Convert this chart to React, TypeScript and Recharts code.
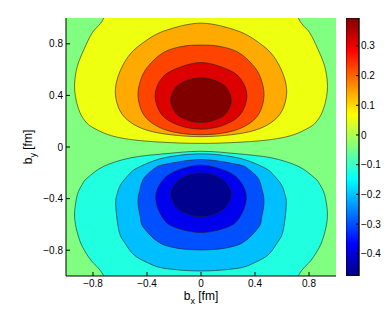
import React from "react";
import { ScatterChart, Scatter, XAxis, YAxis, CartesianGrid, BarChart, Bar } from "recharts";

// axis ticks
const xTicks = [-0.8, -0.4, 0, 0.4, 0.8];
const yTicks = [-0.8, -0.4, 0, 0.4, 0.8];
const barTicks = [-0.4, -0.3, -0.2, -0.1, 0, 0.1, 0.2, 0.3];
const barRange = [-0.475, 0.394];

// contour lines, [b_x, b_y] in fm
// positive lobe, outer -> inner
const posLevel1 = [
  [-0.6, 1.3], [-0.72, 1.0], [-0.805, 0.886], [-0.867, 0.756], [-0.916, 0.626], [-0.936, 0.497],
  [-0.93, 0.39], [-0.905, 0.289], [-0.865, 0.21], [-0.8, 0.15], [-0.644, 0.082], [-0.4, 0.045],
  [0, 0.028], [0.4, 0.045], [0.644, 0.082], [0.8, 0.15], [0.865, 0.21], [0.905, 0.289],
  [0.93, 0.39], [0.936, 0.497], [0.916, 0.626], [0.867, 0.756], [0.805, 0.886], [0.72, 1.0], [0.6, 1.3],
];
const posLevel2 = [
  [-0.635, 0.42], [-0.61, 0.56], [-0.54, 0.7], [-0.44, 0.8], [-0.274, 0.899], [0, 0.96],
  [0.274, 0.899], [0.44, 0.8], [0.54, 0.7], [0.61, 0.56], [0.635, 0.42], [0.6, 0.28],
  [0.52, 0.19], [0.4, 0.13], [0.225, 0.095], [0, 0.08], [-0.225, 0.095], [-0.4, 0.13],
  [-0.52, 0.19], [-0.6, 0.28],
];
const posLevel3 = [
  [-0.467, 0.4], [-0.44, 0.54], [-0.38, 0.64], [-0.274, 0.735], [-0.14, 0.78], [0, 0.79],
  [0.14, 0.78], [0.274, 0.735], [0.38, 0.64], [0.44, 0.54], [0.467, 0.4], [0.43, 0.26],
  [0.34, 0.17], [0.2, 0.115], [0, 0.095], [-0.2, 0.115], [-0.34, 0.17], [-0.43, 0.26],
];
const posLevel4 = [
  [-0.34, 0.39], [-0.3, 0.52], [-0.2, 0.6], [0, 0.655], [0.2, 0.6], [0.3, 0.52],
  [0.34, 0.39], [0.29, 0.25], [0.17, 0.17], [0, 0.138], [-0.17, 0.17], [-0.29, 0.25],
];
const posLevel5 = [
  [-0.225, 0.36], [-0.18, 0.47], [-0.09, 0.52], [0, 0.536], [0.09, 0.52], [0.18, 0.47],
  [0.225, 0.36], [0.18, 0.255], [0.09, 0.205], [0, 0.19], [-0.09, 0.205], [-0.18, 0.255],
];

// negative lobe, outer -> inner
const negLevel1 = [
  [-0.6, -1.3], [-0.72, -1.0], [-0.817, -0.876], [-0.875, -0.78], [-0.904, -0.707], [-0.93, -0.6],
  [-0.936, -0.5], [-0.916, -0.37], [-0.88, -0.29], [-0.842, -0.24], [-0.719, -0.149], [-0.521, -0.084],
  [-0.274, -0.053], [0, -0.033], [0.274, -0.053], [0.521, -0.084], [0.719, -0.149], [0.842, -0.24],
  [0.88, -0.29], [0.916, -0.37], [0.936, -0.5], [0.93, -0.6], [0.904, -0.707], [0.875, -0.78],
  [0.817, -0.876], [0.72, -1.0], [0.6, -1.3],
];
const negLevel2 = [
  [-0.632, -0.447], [-0.62, -0.36], [-0.595, -0.292], [-0.54, -0.22], [-0.472, -0.162], [-0.274, -0.084],
  [0, -0.053], [0.274, -0.084], [0.472, -0.162], [0.54, -0.22], [0.595, -0.292], [0.62, -0.36],
  [0.632, -0.447], [0.607, -0.655], [0.56, -0.75], [0.496, -0.837], [0.4, -0.895], [0.274, -0.94],
  [0, -0.961], [-0.274, -0.94], [-0.4, -0.895], [-0.496, -0.837], [-0.56, -0.75], [-0.607, -0.655],
];
const negLevel3 = [
  [-0.467, -0.422], [-0.45, -0.32], [-0.422, -0.24], [-0.35, -0.17], [-0.274, -0.136], [0, -0.097],
  [0.274, -0.136], [0.35, -0.17], [0.422, -0.24], [0.45, -0.32], [0.467, -0.422], [0.45, -0.54],
  [0.422, -0.629], [0.274, -0.759], [0, -0.798], [-0.274, -0.759], [-0.422, -0.629], [-0.45, -0.54],
];
const negLevel4 = [
  [-0.336, -0.4], [-0.3, -0.28], [-0.2, -0.192], [0, -0.141], [0.2, -0.192], [0.3, -0.28],
  [0.336, -0.4], [0.29, -0.54], [0.2, -0.62], [0, -0.663], [-0.2, -0.62], [-0.29, -0.54],
];
const negLevel5 = [
  [-0.225, -0.365], [-0.18, -0.27], [-0.09, -0.215], [0, -0.201], [0.09, -0.215], [0.18, -0.27],
  [0.225, -0.365], [0.18, -0.47], [0.09, -0.525], [0, -0.539], [-0.09, -0.525], [-0.18, -0.47],
];

const posColors = ["#EFFF10", "#FFAA00", "#FF4400", "#DD0000", "#800000"];
const negColors = ["#20FFDF", "#00BFFF", "#0050FF", "#0000EE", "#00008F"];
const BACKGROUND = "#80FF80";

const contours = [
  { name: "p1", pts: posLevel1, color: posColors[0] },
  { name: "p2", pts: posLevel2, color: posColors[1] },
  { name: "p3", pts: posLevel3, color: posColors[2] },
  { name: "p4", pts: posLevel4, color: posColors[3] },
  { name: "p5", pts: posLevel5, color: posColors[4] },
  { name: "n1", pts: negLevel1, color: negColors[0] },
  { name: "n2", pts: negLevel2, color: negColors[1] },
  { name: "n3", pts: negLevel3, color: negColors[2] },
  { name: "n4", pts: negLevel4, color: negColors[3] },
  { name: "n5", pts: negLevel5, color: negColors[4] },
];

const barData = [{ name: "cb", range: barRange }];

const toPts = (arr: number[][]) => arr.map(([x, y]) => ({ x, y }));

const fmt = (v: number) => (v < 0 ? "\u2212" + Math.abs(v) : String(v));

// closed Catmull-Rom through the scaled points
function closedPath(pts: { x: number; y: number }[]) {
  const n = pts.length;
  if (!n) return "";
  let d = `M${pts[0].x},${pts[0].y}`;
  for (let i = 0; i < n; i++) {
    const p0 = pts[(i - 1 + n) % n];
    const p1 = pts[i];
    const p2 = pts[(i + 1) % n];
    const p3 = pts[(i + 2) % n];
    const c1x = p1.x + (p2.x - p0.x) / 6;
    const c1y = p1.y + (p2.y - p0.y) / 6;
    const c2x = p2.x - (p3.x - p1.x) / 6;
    const c2y = p2.y - (p3.y - p1.y) / 6;
    d += ` C${c1x},${c1y} ${c2x},${c2y} ${p2.x},${p2.y}`;
  }
  return d + "Z";
}

const contourLine = (color: string) => (props: any) =>
  <path d={closedPath(props.points || [])} fill={color} stroke="#222" strokeWidth={0.6} />;

const noDot = () => <g />;

const FONT = "'Liberation Sans', Arial, sans-serif";

function XTitle(props: any) {
  const vb = props.viewBox || {};
  const cx = vb.x + vb.width / 2;
  const y = vb.y + 24;
  return (
    <text x={cx} y={y} textAnchor="middle" fontSize={12} fontFamily={FONT} fill="#000">
      b<tspan dy={4} fontSize={9}>x</tspan>
      <tspan dy={-4}> [fm]</tspan>
    </text>
  );
}

function YTitle(props: any) {
  const vb = props.viewBox || {};
  const x = vb.x + 6;
  const cy = vb.y + vb.height / 2;
  return (
    <text x={x} y={cy} transform={`rotate(-90, ${x}, ${cy})`} textAnchor="middle" fontSize={12} fontFamily={FONT} fill="#000">
      b<tspan dy={4} fontSize={9}>y</tspan>
      <tspan dy={-4}> [fm]</tspan>
    </text>
  );
}

const tickStyle = { fill: "#000", fontSize: 10, fontFamily: FONT };

export default function App() {
  return (
    <div style={{ position: "absolute", left: 0, top: 0, width: 392, height: 316, background: "#fff" }}>
      <div style={{ position: "absolute", left: 0, top: 0 }}>
        <ScatterChart width={392} height={316} margin={{ top: 18, right: 56, bottom: 20, left: 26 }}>
          <CartesianGrid horizontal={false} vertical={false} fill={BACKGROUND} />
          {contours.map((c) => (
            <Scatter
              key={c.name}
              name={c.name}
              data={toPts(c.pts)}
              line={contourLine(c.color)}
              shape={noDot}
              fill={c.color}
              isAnimationActive={false}
              zIndex={100}
            />
          ))}
          <XAxis
            type="number"
            dataKey="x"
            domain={[-1, 1]}
            allowDataOverflow
            ticks={xTicks}
            tickFormatter={fmt}
            tickSize={-4}
            tickMargin={8}
            height={20}
            stroke="#000"
            tick={tickStyle}
            label={{ content: (p: any) => <XTitle viewBox={p.viewBox} /> }}
          />
          <XAxis
            xAxisId="top"
            orientation="top"
            type="number"
            domain={[-1, 1]}
            allowDataOverflow
            ticks={xTicks}
            tick={false}
            tickSize={-4}
            height={0}
            stroke="#000"
          />
          <YAxis
            type="number"
            dataKey="y"
            domain={[-1, 1]}
            allowDataOverflow
            ticks={yTicks}
            tickFormatter={fmt}
            tickSize={-4}
            tickMargin={7}
            width={40}
            stroke="#000"
            tick={tickStyle}
            label={{ content: (p: any) => <YTitle viewBox={p.viewBox} /> }}
          />
          <YAxis
            yAxisId="right"
            orientation="right"
            type="number"
            domain={[-1, 1]}
            allowDataOverflow
            ticks={yTicks}
            tick={false}
            tickSize={-4}
            width={0}
            stroke="#000"
          />
        </ScatterChart>
      </div>
      <div style={{ position: "absolute", left: 346, top: 0 }}>
        <BarChart width={46} height={316} data={barData} margin={{ top: 18, right: 0, bottom: 40, left: 0 }} barCategoryGap={0}>
          <defs>
            <linearGradient id="jet" x1="0" y1="1" x2="0" y2="0">
              <stop offset="0" stopColor="#000080" />
              <stop offset="0.125" stopColor="#0000FF" />
              <stop offset="0.375" stopColor="#00FFFF" />
              <stop offset="0.625" stopColor="#FFFF00" />
              <stop offset="0.875" stopColor="#FF0000" />
              <stop offset="1" stopColor="#800000" />
            </linearGradient>
          </defs>
          <XAxis dataKey="name" hide />
          <YAxis
            orientation="right"
            type="number"
            domain={barRange}
            allowDataOverflow
            ticks={barTicks}
            tickFormatter={fmt}
            tickSize={-3}
            tickMargin={5}
            width={33}
            stroke="#000"
            tick={tickStyle}
          />
          <YAxis
            yAxisId="left"
            orientation="left"
            type="number"
            domain={barRange}
            allowDataOverflow
            ticks={barTicks}
            tick={false}
            tickSize={-3}
            width={0}
            stroke="#000"
          />
          <Bar dataKey="range" fill="url(#jet)" stroke="#000" strokeWidth={0.8} isAnimationActive={false} />
        </BarChart>
      </div>
    </div>
  );
}
